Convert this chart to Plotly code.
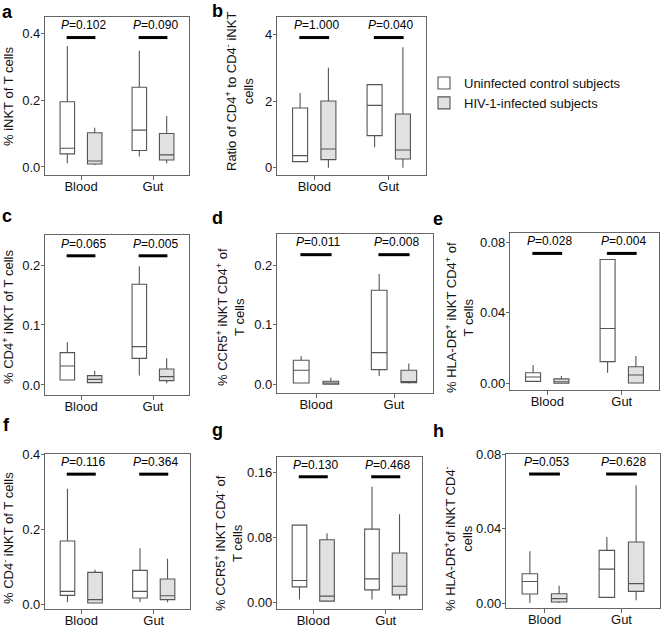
import plotly.graph_objects as go
from plotly.subplots import make_subplots

W, H = 662, 628
FONT = "Liberation Sans, Arial, sans-serif"

groups = ["Blood", "Gut"]
ctrl_name = "Uninfected control subjects"
hiv_name = "HIV-1-infected subjects"

# box summaries per group (Blood, Gut): [low whisker, q1, median, q3, high whisker]
a_ctrl = [[0.011, 0.039, 0.056, 0.195, 0.361], [0.031, 0.049, 0.110, 0.238, 0.347]]
a_hiv = [[0.005, 0.009, 0.018, 0.102, 0.117], [0.011, 0.021, 0.036, 0.100, 0.152]]
b_ctrl = [[0.18, 0.18, 0.36, 1.79, 2.24], [0.61, 0.96, 1.87, 2.49, 2.49]]
b_hiv = [[0.0, 0.24, 0.56, 2.0, 3.0], [0.0, 0.26, 0.53, 1.61, 3.61]]
c_ctrl = [[0.0083, 0.0083, 0.0317, 0.0539, 0.0711], [0.0156, 0.0444, 0.0639, 0.168, 0.198]]
c_hiv = [[0.0028, 0.0039, 0.0094, 0.0156, 0.0239], [0.0028, 0.0072, 0.0139, 0.0267, 0.0444]]
d_ctrl = [[0.0028, 0.0028, 0.024, 0.0408, 0.048], [0.0145, 0.0251, 0.0536, 0.158, 0.185]]
d_hiv = [[0.0006, 0.0006, 0.0028, 0.0056, 0.0117], [0.0017, 0.0034, 0.0045, 0.024, 0.0352]]
e_ctrl = [[0.0011, 0.0011, 0.0036, 0.006, 0.0104], [0.006, 0.0123, 0.0311, 0.0702, 0.0702]]
e_hiv = [[0.0, 0.0, 0.0009, 0.0025, 0.0042], [0.0, 0.0002, 0.0047, 0.0094, 0.0155]]
f_ctrl = [[0.0044, 0.0231, 0.0338, 0.168, 0.3076], [0.0053, 0.016, 0.0338, 0.0898, 0.149]]
f_hiv = [[0.0027, 0.0027, 0.0116, 0.0844, 0.0916], [0.0044, 0.0116, 0.0222, 0.0667, 0.121]]
g_ctrl = [[0.0033, 0.0189, 0.0267, 0.0952, 0.0952], [0.0033, 0.0152, 0.0287, 0.0903, 0.1428]]
g_hiv = [[0.0012, 0.0012, 0.0074, 0.0771, 0.0853], [0.0033, 0.009, 0.0197, 0.0607, 0.1087]]
h_ctrl = [[0.0004, 0.0052, 0.0119, 0.016, 0.028], [0.0034, 0.0034, 0.0185, 0.0285, 0.0356]]
h_hiv = [[0.0004, 0.0009, 0.0027, 0.0053, 0.0096], [0.0018, 0.0066, 0.0107, 0.033, 0.0631]]

# P values (Blood, Gut)
a_p = ["0.102", "0.090"]
b_p = ["1.000", "0.040"]
c_p = ["0.065", "0.005"]
d_p = ["0.011", "0.008"]
e_p = ["0.028", "0.004"]
f_p = ["0.116", "0.364"]
g_p = ["0.130", "0.468"]
h_p = ["0.053", "0.628"]

# y tick values
a_ticks = [0.0, 0.2, 0.4]
b_ticks = [0, 2, 4]
c_ticks = [0.0, 0.1, 0.2]
d_ticks = [0.0, 0.1, 0.2]
e_ticks = [0.0, 0.04, 0.08]
f_ticks = [0.0, 0.2, 0.4]
g_ticks = [0.0, 0.08, 0.16]
h_ticks = [0.0, 0.04, 0.08]

panels = [
    dict(tag="a", row=1, col=1, ctrl=a_ctrl, hiv=a_hiv, p=a_p, ticks=a_ticks, fmt=".1f",
         yr=[-0.024, 0.448], frame=(45, 189, 17, 175), tpos=(8, 97), lpos=(7, 12),
         title="% iNKT of T cells"),
    dict(tag="b", row=1, col=2, ctrl=b_ctrl, hiv=b_hiv, p=b_p, ticks=b_ticks, fmt="d",
         yr=[-0.22, 4.52], frame=(277, 426, 17, 175), tpos=(240, 92), lpos=(217, 11),
         title="Ratio of CD4<sup>+</sup> to CD4<sup>-</sup> iNKT<br>cells"),
    dict(tag="c", row=2, col=1, ctrl=c_ctrl, hiv=c_hiv, p=c_p, ticks=c_ticks, fmt=".1f",
         yr=[-0.0167, 0.25], frame=(45, 189, 235, 395), tpos=(8, 317), lpos=(7, 216),
         title="% CD4<sup>+</sup> iNKT of T cells"),
    dict(tag="d", row=2, col=2, ctrl=d_ctrl, hiv=d_hiv, p=d_p, ticks=d_ticks, fmt=".1f",
         yr=[-0.014, 0.252], frame=(277, 433, 234, 393), tpos=(230, 317), lpos=(218, 218),
         title="% CCR5<sup>+</sup> iNKT CD4<sup>+</sup> of<br>T cells"),
    dict(tag="e", row=2, col=3, ctrl=e_ctrl, hiv=e_hiv, p=e_p, ticks=e_ticks, fmt=".2f",
         yr=[-0.0038, 0.0852], frame=(510, 659, 233, 390), tpos=(459, 318), lpos=(438, 219),
         title="% HLA-DR<sup>+</sup> iNKT CD4<sup>+</sup> of<br>T cells"),
    dict(tag="f", row=3, col=1, ctrl=f_ctrl, hiv=f_hiv, p=f_p, ticks=f_ticks, fmt=".1f",
         yr=[-0.0133, 0.4], frame=(45, 190, 454, 609), tpos=(8, 538), lpos=(6, 425),
         title="% CD4<sup>-</sup> iNKT of T cells"),
    dict(tag="g", row=3, col=2, ctrl=g_ctrl, hiv=g_hiv, p=g_p, ticks=g_ticks, fmt=".2f",
         yr=[-0.0085, 0.1795], frame=(277, 422, 457, 609), tpos=(228, 543), lpos=(218, 430),
         title="% CCR5<sup>+</sup> iNKT CD4<sup>-</sup> of<br>T cells"),
    dict(tag="h", row=3, col=3, ctrl=h_ctrl, hiv=h_hiv, p=h_p, ticks=h_ticks, fmt=".2f",
         yr=[-0.0023, 0.08], frame=(506, 660, 454, 608), tpos=(458, 539), lpos=(438, 431),
         title="% HLA-DR<sup>+</sup>of iNKT CD4<sup>-</sup><br>cells"),
]


def make_box(summary, name, fill, group, show):
    low, q1, med, q3, high = zip(*summary)
    return go.Box(
        x=groups, lowerfence=list(low), q1=list(q1), median=list(med), q3=list(q3),
        upperfence=list(high), name=name, offsetgroup=group, showlegend=show,
        fillcolor=fill, line=dict(color="#555555", width=1.1), whiskerwidth=0,
        boxpoints=False, hoverinfo="skip",
    )


fig = make_subplots(rows=3, cols=3, specs=[[{}, {}, None], [{}, {}, {}], [{}, {}, {}]])

axis_style = dict(showline=True, mirror=True, linecolor="#666666", linewidth=1.2,
                  ticks="outside", tickcolor="#666666", showgrid=False, zeroline=False,
                  automargin=False,
                  tickfont=dict(size=13, color="#111111", family=FONT))

for pn in panels:
    r, c = pn["row"], pn["col"]
    first = pn["tag"] == "a"
    fig.add_trace(make_box(pn["ctrl"], ctrl_name, "white", "ctrl", first), row=r, col=c)
    fig.add_trace(make_box(pn["hiv"], hiv_name, "#e1e1e1", "hiv", first), row=r, col=c)

    x0, x1, y0, y1 = pn["frame"]
    fig.update_xaxes(axis_style, type="category", range=[-0.5, 1.5], ticklen=4,
                     ticklabelstandoff=-5, domain=[x0 / W, x1 / W], row=r, col=c)
    fig.update_yaxes(axis_style, range=pn["yr"], tickvals=pn["ticks"], tickformat=pn["fmt"],
                     ticklen=3, ticklabelstandoff=-2, domain=[1 - y1 / H, 1 - y0 / H],
                     row=r, col=c)

    # significance bars and P values
    for i, pv in enumerate(pn["p"]):
        fig.add_shape(type="line", xref="x", yref="y domain", x0=i - 0.2, x1=i + 0.2,
                      y0=0.87, y1=0.87, line=dict(color="black", width=3), row=r, col=c)
        fig.add_annotation(text="<i>P</i>=" + pv, xref="x", yref="y domain", x=i + 0.03,
                           y=0.89, yanchor="bottom", showarrow=False,
                           font=dict(size=12, color="black", family=FONT), row=r, col=c)

    tx, ty = pn["tpos"]
    fig.add_annotation(text=pn["title"], xref="paper", yref="paper", x=tx / W, y=1 - ty / H,
                       textangle=-90, showarrow=False, xanchor="center", yanchor="middle",
                       font=dict(size=13, color="#111111", family=FONT))
    lx, ly = pn["lpos"]
    fig.add_annotation(text="<b>" + pn["tag"] + "</b>", xref="paper", yref="paper",
                       x=lx / W, y=1 - ly / H, showarrow=False, xanchor="center", yanchor="middle",
                       font=dict(size=18, color="black", family=FONT))

fig.update_layout(
    width=W, height=H,
    margin=dict(l=0, r=0, t=0, b=0, pad=0),
    paper_bgcolor="white", plot_bgcolor="white",
    boxmode="group", boxgap=0.24, boxgroupgap=0.47,
    font=dict(family=FONT, size=13, color="#111111"),
    legend=dict(x=424 / W, y=1 - 68 / H, xanchor="left", yanchor="top", tracegroupgap=0,
                bgcolor="rgba(0,0,0,0)", font=dict(size=13, family=FONT)),
)

fig.write_html("out.html", config={"displayModeBar": False},
               post_script="document.body.style.margin='0';")
